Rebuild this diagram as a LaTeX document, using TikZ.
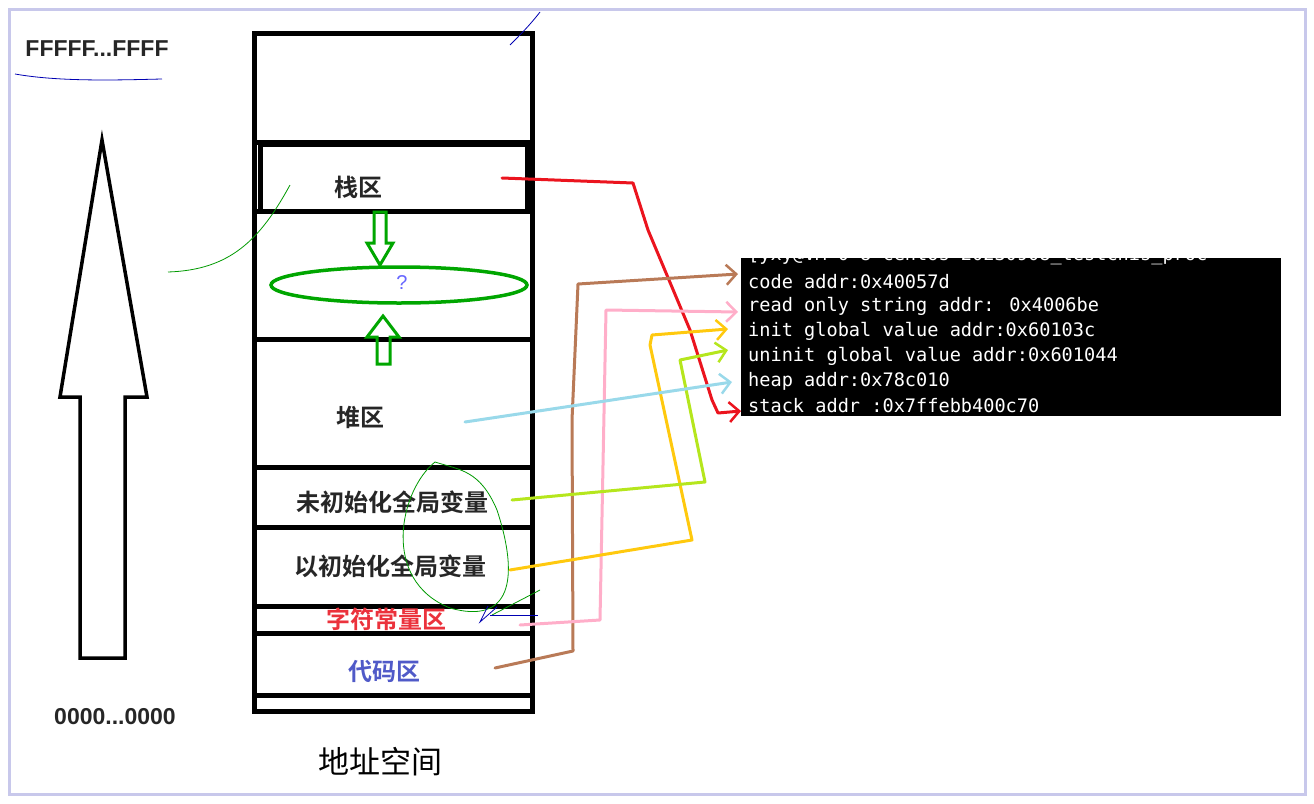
\documentclass[tikz,border=0pt]{standalone}
\usepackage{fontspec}
\setmainfont{Liberation Sans}
\newfontfamily\cjk{Noto Sans CJK SC}
\newfontfamily\cjkb{Noto Sans CJK SC Bold}
\newfontfamily\mono{DejaVu Sans Mono}
\usetikzlibrary{arrows.meta}
\tikzset{
 mem/.style={line width=5pt},
 lbl/.style={font=\cjkb\fontsize{24}{26}\selectfont, text=black!85},
 term/.style={font=\mono\fontsize{18.6}{22}\selectfont, text=white, anchor=west, inner sep=0pt},
 hand/.style={line width=3pt, line cap=round, line join=round, -{Straight Barb[length=10pt,width=20pt,line width=2.5pt]}},
 thin/.style={green!60!black, line width=0.8pt}
}
\begin{document}
\begin{tikzpicture}[x=1pt,y=-1pt]
\useasboundingbox (0,0) rectangle (1314,803);
\draw[color={rgb,255:red,200;green,200;blue,235}, line width=3pt] (9,9) rectangle (1305,794);
% big arrow
\draw[line width=3.5pt] (102,140) -- (147,397) -- (125,397) -- (125,658) -- (80,658) -- (80,397) -- (60,397) -- cycle;
\node[font=\bfseries\fontsize{23}{26}\selectfont, text=black!85] (ff) at (97,49) {FFFFF...FFFF};
\node[font=\bfseries\fontsize{23}{26}\selectfont, text=black!85] (zz) at (115,717) {0000...0000};
\draw[blue!70!black, line width=0.8pt] (15,74) .. controls (60,82) and (120,80) .. (162,79);
% memory
\draw[mem] (254,33) rectangle (532,711);
\draw[mem] (254,142) -- (532,142);
\draw[mem] (260,144) rectangle (527,211);
\draw[mem] (254,211) -- (532,211);
\draw[mem] (254,339) -- (532,339);
\draw[mem] (254,467) -- (532,467);
\draw[mem] (254,527) -- (532,527);
\draw[mem] (254,606) -- (532,606);
\draw[mem] (254,633) -- (532,633);
\draw[mem] (254,695) -- (532,695);
\node[lbl] (stack) at (358,187) {栈区};
\node[lbl] (heap) at (360,417) {堆区};
\node[lbl] (uninit) at (392,502) {未初始化全局变量};
\node[lbl] (init) at (390,566) {以初始化全局变量};
\node[lbl, text={rgb,255:red,235;green,50;blue,60}] (str) at (386,619) {字符常量区};
\node[lbl, text={rgb,255:red,80;green,90;blue,200}] (code) at (384,671) {代码区};
\node[font=\cjk\fontsize{31}{34}\selectfont] (addr) at (380,762) {地址空间};
% green gap
\draw[green!65!black, line width=3.5pt] (399,285) ellipse (128 and 18);
\draw[green!65!black, line width=3pt] (374,212) -- (386,212) -- (386,243) -- (393,243) -- (380,265) -- (367,243) -- (374,243) -- cycle;
\draw[green!65!black, line width=3pt] (377,364) -- (390,364) -- (390,337) -- (399,337) -- (383,316) -- (367,337) -- (377,337) -- cycle;
\node[font=\fontsize{20}{22}\selectfont, text=blue!60] at (402,283) {?};
% thin scribbles
\draw[thin] (168,272) .. controls (230,270) and (260,240) .. (290,185);
\draw[blue!70!black, line width=0.8pt] (540,12) .. controls (530,25) and (520,35) .. (510,45);
\draw[thin] (435,462) .. controls (400,490) and (380,580) .. (450,608) .. controls (510,625) and (520,580) .. (497,510) .. controls (480,470) and (460,470) .. (435,462);
\draw[thin] (492,615) -- (540,590);
\draw[blue!70!black, line width=0.8pt] (497,607) -- (480,622) -- (488,606);
\draw[blue!70!black, line width=0.8pt] (490,615) -- (538,615);
% terminal
\fill[black] (741,258) rectangle (1281,416);
\begin{scope}
\clip (741,258) rectangle (1281,416);
\node[term] (t0) at (748,256) {[yxy@VM-0-8-centos 20230908\_testchis\_proc};
\end{scope}
\node[term] (t1) at (748,282) {code addr:0x40057d};
\node[term] (t2) at (748,306) {read only string addr: 0x4006be};
\node[term] (t3) at (748,331) {init global value addr:0x60103c};
\node[term] (t4) at (748,356) {uninit global value addr:0x601044};
\node[term] (t5) at (748,381) {heap addr:0x78c010};
\node[term] (t6) at (748,406) {stack addr :0x7ffebb400c70};
% hand arrows
\coordinate (r0) at (502,178);
\coordinate (re) at (741,411);
\draw[hand, color={rgb,255:red,235;green,20;blue,30}] (r0) -- (633,183) -- (648,230) -- (690,330) -- (712,400) -- (718,413) -- (re);
\coordinate (b0) at (495,668);
\coordinate (be) at (738,274);
\draw[hand, color={rgb,255:red,185;green,122;blue,87}] (b0) -- (573,651) -- (572,420) -- (578,284) -- (be);
\coordinate (p0) at (520,625);
\coordinate (pe) at (738,312);
\draw[hand, color={rgb,255:red,255;green,174;blue,201}] (p0) -- (600,620) -- (606,310) -- (pe);
\coordinate (o0) at (510,570);
\coordinate (oe) at (728,329);
\draw[hand, color={rgb,255:red,255;green,201;blue,14}] (o0) -- (692,540) -- (650,345) -- (652,335) -- (oe);
\coordinate (g0) at (512,500);
\coordinate (ge) at (728,350);
\draw[hand, color={rgb,255:red,181;green,230;blue,29}] (g0) -- (705,482) -- (680,360) -- (ge);
\coordinate (h0) at (465,422);
\coordinate (he) at (732,382);
\draw[hand, color={rgb,255:red,153;green,217;blue,234}] (h0) -- (he);
\end{tikzpicture}
\end{document}
